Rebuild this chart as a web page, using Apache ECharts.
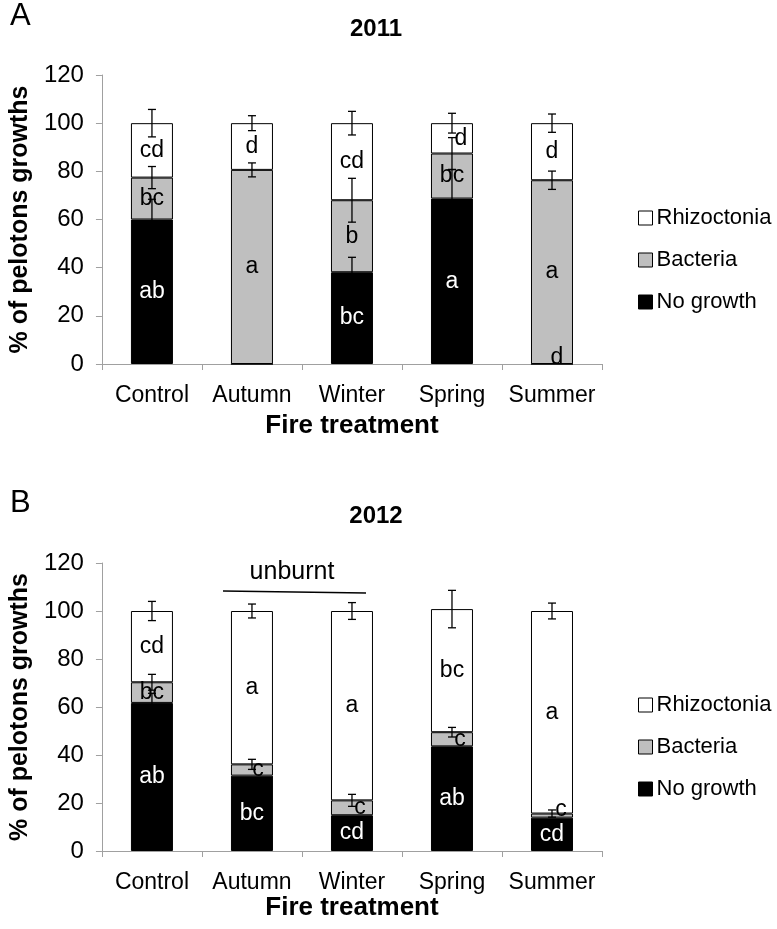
<!DOCTYPE html>
<html><head><meta charset="utf-8">
<script src="https://cdn.jsdelivr.net/npm/echarts@6/dist/echarts.min.js"></script>
<style>html,body{margin:0;padding:0;background:#fff}#c{width:777px;height:929px}</style>
</head><body><div id="c"></div>
<script>
const categories = ['Control', 'Autumn', 'Winter', 'Spring', 'Summer'];
const seriesNames = ['No growth', 'Bacteria', 'Rhizoctonia'];

// 2011 (panel A)
const noGrowth2011 = [60.0, 0, 38.1, 68.7, 0];
const bacteria2011 = [17.4, 80.6, 29.9, 18.7, 76.3];
const rhizo2011 = [22.6, 19.4, 32.0, 12.6, 23.7];
const noGrowthErr2011 = [8.4, 0, 6.2, 12.0, 0];
const bacteriaErr2011 = [4.6, 2.9, 9.1, 6.6, 3.8];
const rhizoErr2011 = [5.7, 3.1, 4.9, 4.1, 3.8];
const noGrowthLetters2011 = ['ab', '', 'bc', 'a', 'd'];
const bacteriaLetters2011 = ['bc', 'a', 'b', 'bc', 'a'];
const rhizoLetters2011 = ['cd', 'd', 'cd', 'd', 'd'];

// 2012 (panel B)
const noGrowth2012 = [61.7, 31.4, 14.9, 43.6, 13.9];
const bacteria2012 = [8.6, 4.7, 6.2, 5.9, 1.7];
const rhizo2012 = [29.7, 63.9, 78.9, 51.3, 84.4];
const noGrowthErr2012 = [4.0, 0, 0, 0, 0];
const bacteriaErr2012 = [3.3, 2.1, 2.5, 2.0, 1.5];
const rhizoErr2012 = [4.0, 2.9, 3.5, 7.8, 3.3];
const noGrowthLetters2012 = ['ab', 'bc', 'cd', 'ab', 'cd'];
const bacteriaLetters2012 = ['bc', 'c', 'c', 'c', 'c'];
const rhizoLetters2012 = ['cd', 'a', 'a', 'bc', 'a'];

const yTickInterval = 20;
const yMax = 120;

// ---- styling ----
const FONT = 'Liberation Sans, Arial, Helvetica, sans-serif';
const fills = {'No growth': '#000000', 'Bacteria': '#bfbfbf', 'Rhizoctonia': '#ffffff'};
const labelColors = {'No growth': '#ffffff', 'Bacteria': '#000000', 'Rhizoctonia': '#000000'};
// per-label nudges (style only)
const labelTweaks = {
  '0|No growth|4': {offset: [5, -6], color: '#000000'},
  '0|Rhizoctonia|3': {offset: [9, 0]},
  '1|Bacteria|1': {offset: [6, 0]},
  '1|Bacteria|2': {offset: [8, 0]},
  '1|Bacteria|3': {offset: [8, 0]},
  '1|Bacteria|4': {offset: [9, -6]}
};

const panels = [
  {vals: [noGrowth2011, bacteria2011, rhizo2011], errs: [noGrowthErr2011, bacteriaErr2011, rhizoErr2011],
   letters: [noGrowthLetters2011, bacteriaLetters2011, rhizoLetters2011]},
  {vals: [noGrowth2012, bacteria2012, rhizo2012], errs: [noGrowthErr2012, bacteriaErr2012, rhizoErr2012],
   letters: [noGrowthLetters2012, bacteriaLetters2012, rhizoLetters2012]}
];

const grids = [
  {left: 95, right: 175, top: 75, height: 289},
  {left: 95, right: 175, top: 563, height: 288}
];

function renderErr(params, api) {
  const i = api.value(0), v = api.value(1), e = api.value(2);
  const hi = api.coord([i, v + e]);
  const lo = api.coord([i, v - e]);
  const x = hi[0], w = 4;
  const st = {stroke: '#000', lineWidth: 1.3};
  return {type: 'group', children: [
    {type: 'line', shape: {x1: x, y1: hi[1], x2: x, y2: lo[1]}, style: st},
    {type: 'line', shape: {x1: x - w, y1: hi[1], x2: x + w, y2: hi[1]}, style: st},
    {type: 'line', shape: {x1: x - w, y1: lo[1], x2: x + w, y2: lo[1]}, style: st}
  ]};
}

const xAxes = [], yAxes = [], series = [];
panels.forEach((p, g) => {
  xAxes.push({
    type: 'category', gridIndex: g, data: categories,
    axisLine: {lineStyle: {color: '#a0a0a0', width: 1}},
    axisTick: {show: true, length: 6, interval: 0, lineStyle: {color: '#a0a0a0'}},
    axisLabel: {fontSize: 23, color: '#000', margin: 20, interval: 0, hideOverlap: false, fontFamily: FONT},
    name: 'Fire treatment', nameLocation: 'middle', nameGap: g === 0 ? 49 : 42,
    nameTextStyle: {fontSize: 26, fontWeight: 'bold', color: '#000', fontFamily: FONT}
  });
  yAxes.push({
    type: 'value', gridIndex: g, min: 0, max: yMax, interval: yTickInterval,
    axisLine: {show: true, lineStyle: {color: '#a0a0a0', width: 1}},
    axisTick: {show: true, length: 6, lineStyle: {color: '#a0a0a0'}},
    splitLine: {show: false},
    axisLabel: {fontSize: 24, color: '#000', margin: 18, fontFamily: FONT},
    name: '% of pelotons growths', nameLocation: 'middle', nameGap: 66,
    nameTextStyle: {fontSize: 25, fontWeight: 'bold', color: '#000', fontFamily: FONT}
  });
  const cum = categories.map(() => 0);
  const errData = [];
  seriesNames.forEach((name, k) => {
    const vals = p.vals[k];
    const data = vals.map((v, i) => {
      const item = {value: v};
      const tw = labelTweaks[g + '|' + name + '|' + i];
      if (tw) item.label = Object.assign({}, tw);
      return item;
    });
    const letters = p.letters[k];
    series.push({
      type: 'bar', name: name, stack: 'stack' + g, xAxisIndex: g, yAxisIndex: g,
      barWidth: 42, data: data,
      itemStyle: {color: fills[name], borderColor: '#000', borderWidth: 1},
      label: {show: true, position: 'inside', fontSize: 23, fontFamily: FONT,
              color: labelColors[name], formatter: (pp) => letters[pp.dataIndex]},
      emphasis: {disabled: true}, z: 2
    });
    vals.forEach((v, i) => {
      cum[i] += v;
      if (p.errs[k][i] > 0) errData.push([i, cum[i], p.errs[k][i]]);
    });
  });
  series.push({
    type: 'custom', xAxisIndex: g, yAxisIndex: g, data: errData,
    renderItem: renderErr, encode: {x: 0, y: 1}, z: 5, silent: true
  });
});

const legendData = ['Rhizoctonia', 'Bacteria', 'No growth'].map(n => ({
  name: n, itemStyle: {color: fills[n], borderColor: '#000', borderWidth: 1}
}));
const legends = [202, 689].map(t => ({
  orient: 'vertical', left: 633, top: t, itemGap: 20, itemWidth: 14, itemHeight: 14,
  icon: 'rect', selectedMode: false, data: legendData,
  textStyle: {fontSize: 22, color: '#000', fontFamily: FONT, padding: [0, 0, 0, -1]}
}));

const chart = echarts.init(document.getElementById('c'), null, {renderer: 'canvas'});
chart.setOption({
  animation: false,
  backgroundColor: '#fff',
  grid: grids,
  xAxis: xAxes,
  yAxis: yAxes,
  legend: legends,
  series: series,
  graphic: [
    {type: 'text', left: 10, top: 1, style: {text: 'A', fontSize: 31, fill: '#000', fontFamily: FONT}},
    {type: 'text', left: 10, top: 488, style: {text: 'B', fontSize: 31, fill: '#000', fontFamily: FONT}},
    {type: 'text', x: 376, y: 29, style: {text: '2011', fontSize: 24, fontWeight: 'bold', fill: '#000', fontFamily: FONT, textAlign: 'center', textVerticalAlign: 'middle'}},
    {type: 'text', x: 376, y: 516.5, style: {text: '2012', fontSize: 24, fontWeight: 'bold', fill: '#000', fontFamily: FONT, textAlign: 'center', textVerticalAlign: 'middle'}},
    {type: 'text', x: 292, y: 572, style: {text: 'unburnt', fontSize: 25, fill: '#000', fontFamily: FONT, textAlign: 'center', textVerticalAlign: 'middle'}},
    {type: 'line', shape: {x1: 223, y1: 591, x2: 366, y2: 593}, style: {stroke: '#000', lineWidth: 1.3}}
  ]
});
</script></body></html>
